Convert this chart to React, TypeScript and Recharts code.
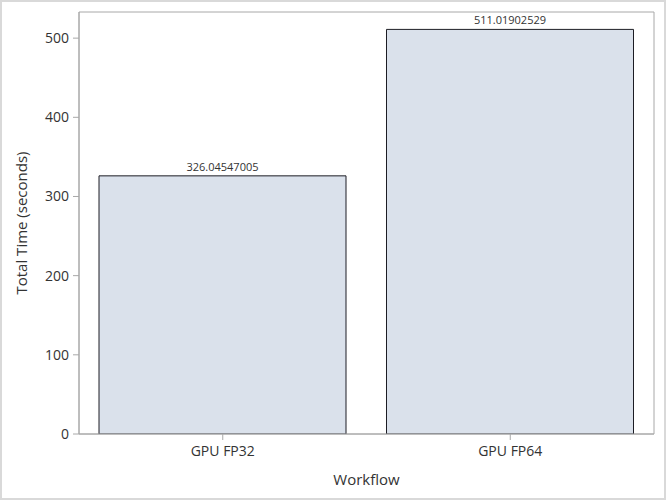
import React from "react";
import {
  BarChart,
  Bar,
  XAxis,
  YAxis,
  LabelList,
  Label,
  ReferenceArea,
} from "recharts";

const workflows = ["GPU FP32", "GPU FP64"];
const totalTimes = [326.04547005, 511.01902529];
const yTicks = [0, 100, 200, 300, 400, 500];

const data = workflows.map((name, i) => ({ name, time: totalTimes[i] }));

const FONT = "'Open Sans', sans-serif";
const AXIS_GRAY = "#a8a8a8";

const App = () => {
  return (
    <div
      style={{
        width: 666,
        height: 500,
        position: "relative",
        background: "#fff",
        fontFamily: FONT,
      }}
    >
      <style>{"body{margin:0}"}</style>
      <BarChart
        width={666}
        height={500}
        data={data}
        margin={{ top: 12, right: 12, bottom: 0, left: 0 }}
      >
        <ReferenceArea
          y1={0}
          y2={533}
          fill="none"
          stroke={AXIS_GRAY}
          strokeWidth={1}
        />
        <XAxis
          dataKey="name"
          height={66}
          stroke={AXIS_GRAY}
          tickSize={6}
          tickMargin={6}
          tick={{ fill: "#333", fontSize: 14, fontFamily: FONT }}
        >
          <Label
            value="Workflow"
            position="center"
            dy={13}
            style={{ fill: "#333", fontSize: 15, fontFamily: FONT }}
          />
        </XAxis>
        <YAxis
          width={79}
          domain={[0, 533]}
          ticks={yTicks}
          allowDataOverflow
          stroke={AXIS_GRAY}
          tickSize={6}
          tickMargin={4}
          tick={{ fill: "#333", fontSize: 14, fontFamily: FONT }}
        >
          <Label
            value="Total Time (seconds)"
            angle={-90}
            position="center"
            dx={-18}
            style={{ fill: "#333", fontSize: 15, fontFamily: FONT, textAnchor: "middle" }}
          />
        </YAxis>
        <Bar
          dataKey="time"
          barSize={247}
          fill="#dae1eb"
          stroke="#1c1c24"
          strokeWidth={1}
          isAnimationActive={false}
        >
          <LabelList
            dataKey="time"
            position="top"
            offset={5}
            style={{ fill: "#333", fontSize: 11, fontFamily: FONT }}
          />
        </Bar>
      </BarChart>
      <div
        style={{
          position: "absolute",
          left: 0,
          top: 0,
          width: 666,
          height: 500,
          boxSizing: "border-box",
          border: "2px solid #d9d9d9",
          pointerEvents: "none",
        }}
      />
    </div>
  );
};

export default App;
